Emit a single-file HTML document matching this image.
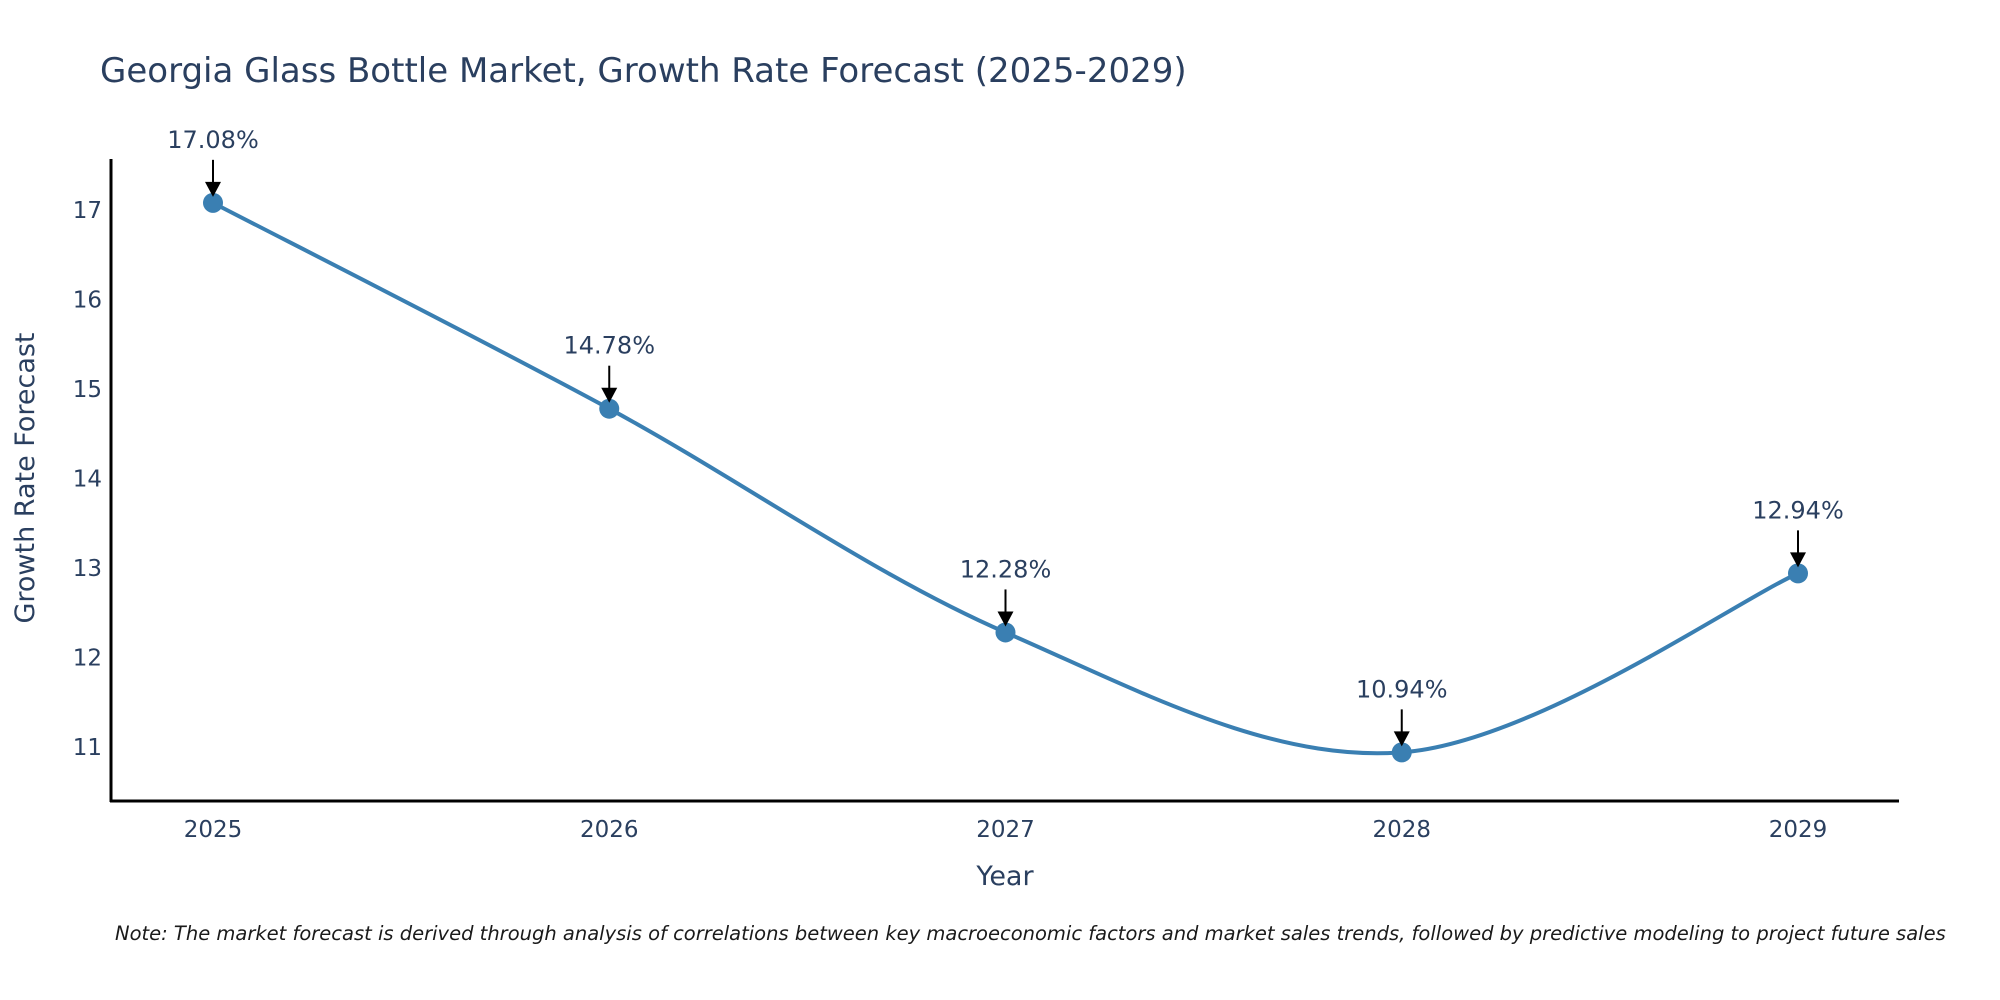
<!DOCTYPE html>
<html><head><meta charset="utf-8"><style>
body{margin:0;background:#fff}
svg{display:block;font-family:"DejaVu Sans","Liberation Sans",sans-serif}
</style></head><body>
<svg id="chart" width="2000" height="1000" viewBox="0 0 2000 1000">
<rect width="2000" height="1000" fill="#fff"/>
<text x="100" y="82" font-size="34" fill="#2a3f5f">Georgia Glass Bottle Market, Growth Rate Forecast (2025-2029)</text>
<g id="yticks"></g>
<g id="xticks"></g>
<line x1="111" y1="159" x2="111" y2="802" stroke="#000" stroke-width="3"/>
<line x1="110" y1="801" x2="1899" y2="801" stroke="#000" stroke-width="3"/>
<path id="line" fill="none" stroke="#3a7fb2" stroke-width="4"/>
<g id="marks"></g>
<g id="ann"></g>
<text x="0" y="0" transform="translate(34,478) rotate(-90)" text-anchor="middle" font-size="27" fill="#2a3f5f">Growth Rate Forecast</text>
<text x="1005" y="885" text-anchor="middle" font-size="27" fill="#2a3f5f">Year</text>
<text x="115" y="940" font-size="19.5" font-style="italic" fill="#1a1a1a">Note: The market forecast is derived through analysis of correlations between key macroeconomic factors and market sales trends, followed by predictive modeling to project future sales</text>
</svg>
<script>
const years = ["2025","2026","2027","2028","2029"];
const values = [17.08,14.78,12.28,10.94,12.94];
const yTicks = [11,12,13,14,15,16,17];
const NS="http://www.w3.org/2000/svg";
function xs(i){return 213+i*(1798-213)/4;}
function ys(v){return 747-(v-11)*(747-210)/6;}
function mk(t,a,p){const e=document.createElementNS(NS,t);for(const k in a)e.setAttribute(k,a[k]);p.appendChild(e);return e;}
const yt=document.getElementById('yticks');
yTicks.forEach(v=>{const t=mk('text',{x:102,y:ys(v)+8,'text-anchor':'end','font-size':23,fill:'#2a3f5f'},yt);t.textContent=v;

});
const xt=document.getElementById('xticks');
years.forEach((y,i)=>{const t=mk('text',{x:xs(i),y:837,'text-anchor':'middle','font-size':23,fill:'#2a3f5f'},xt);t.textContent=y;

});
const P=values.map((v,i)=>[xs(i),ys(v)]);
let d='M'+P[0][0]+','+P[0][1];
for(let i=0;i<P.length-1;i++){
 const p0=P[Math.max(0,i-1)],p1=P[i],p2=P[i+1],p3=P[Math.min(P.length-1,i+2)];
 const c1=[p1[0]+(p2[0]-p0[0])/6,p1[1]+(p2[1]-p0[1])/6];
 const c2=[p2[0]-(p3[0]-p1[0])/6,p2[1]-(p3[1]-p1[1])/6];
 d+=` C${c1[0]},${c1[1]} ${c2[0]},${c2[1]} ${p2[0]},${p2[1]}`;
}
document.getElementById('line').setAttribute('d',d);
const mg=document.getElementById('marks'),ag=document.getElementById('ann');
P.forEach((p,i)=>{
 const c=mk('circle',{cx:p[0],cy:p[1],r:10,fill:'#3a7fb2'},mg);
 
 
 const l=mk('line',{x1:p[0],y1:p[1]-43,x2:p[0],y2:p[1]-14,stroke:'#000','stroke-width':2},ag);
 
 
 const h=mk('path',{d:`M${p[0]-8},${p[1]-21} L${p[0]+8},${p[1]-21} L${p[0]},${p[1]-6} Z`,fill:'#000'},ag);
 
 
 const t=mk('text',{x:p[0],y:p[1]-55,'text-anchor':'middle','font-size':24,fill:'#2a3f5f'},ag);
 t.textContent=values[i].toFixed(2)+'%';
 
 
});
</script>
</body></html>
